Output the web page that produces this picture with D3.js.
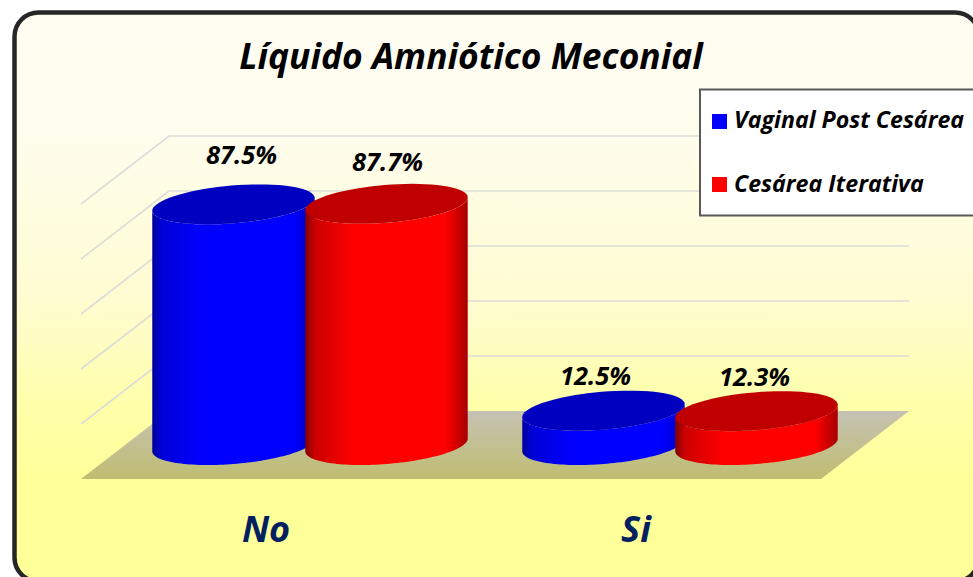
<!DOCTYPE html>
<html>
<head>
<meta charset="utf-8">
<script src="https://cdn.jsdelivr.net/npm/d3@7"></script>
<style>
  html, body { margin: 0; padding: 0; background: #fff; overflow: hidden; }
  text { font-family: "Open Sans", sans-serif; font-style: italic; font-weight: 700; }
</style>
</head>
<body>
<div id="chart"></div>
<script>
const categories = ["No", "Si"];
const seriesNames = ["Vaginal Post Cesárea", "Cesárea Iterativa"];
const vaginal = [87.5, 12.5];
const iterativa = [87.7, 12.3];
const yTicks = [0, 20, 40, 60, 80, 100];
const titleText = "Líquido Amniótico Meconial";

const width = 973, height = 577;
const depthX = 88, depthY = 68;   // how far the back wall sits from the front of the floor

const series = [
  { name: seriesNames[0], values: vaginal, id: "blue", color: "#0000ff", edge: "#00009a", top: "#0000c0" },
  { name: seriesNames[1], values: iterativa, id: "red", color: "#ff0000", edge: "#800000", top: "#c00000" }
];

const svg = d3.select("#chart").append("svg")
  .attr("width", width)
  .attr("height", height);

const defs = svg.append("defs");

function vGradient(id, stops) {
  const g = defs.append("linearGradient").attr("id", id)
    .attr("x1", 0).attr("y1", 0).attr("x2", 0).attr("y2", 1);
  stops.forEach(d => g.append("stop").attr("offset", d[0]).attr("stop-color", d[1]));
}
vGradient("bg", [[0, "#fffdf2"], [0.2, "#fffdee"], [0.5, "#fffcd2"], [0.69, "#ffffaa"], [0.83, "#ffff99"], [1, "#ffff99"]]);
vGradient("floor", [[0, "#c6c2b4"], [1, "#bfbd70"]]);

series.forEach(s => {
  const mix = d3.interpolateRgb(s.edge, s.color);
  const g = defs.append("linearGradient").attr("id", "body-" + s.id)
    .attr("x1", 0).attr("y1", 0).attr("x2", 1).attr("y2", 0);
  [[0, s.edge], [0.06, mix(0.6)], [0.3, s.color], [0.86, s.color], [1, mix(0.3)]]
    .forEach(d => g.append("stop").attr("offset", d[0]).attr("stop-color", d[1]));
});

// panel
svg.append("rect")
  .attr("x", 14.5).attr("y", 12.5)
  .attr("width", 964.5).attr("height", 569)
  .attr("rx", 24).attr("ry", 24)
  .attr("fill", "url(#bg)")
  .attr("stroke", "#262626")
  .attr("stroke-width", 4.5);

const x = d3.scaleBand().domain(categories).range([81, 821]);
const xInner = d3.scaleBand().domain(seriesNames).range([-153, 153]);
const y = d3.scaleLinear().domain([0, 100]).range([411, 136]);

// floor
svg.append("path")
  .attr("d", d3.line()([
    [x.range()[0], y(0) + depthY],
    [x.range()[1], y(0) + depthY],
    [x.range()[1] + depthX, y(0)],
    [x.range()[0] + depthX, y(0)]
  ]) + "Z")
  .attr("fill", "url(#floor)");

// wall grid
const grid = svg.append("g").attr("fill", "none").attr("stroke", "#dcdcd8").attr("stroke-width", 1.6);
yTicks.filter(t => t > 0).forEach(t => {
  grid.append("path").attr("d", d3.line()([
    [x.range()[0], y(t) + depthY],
    [x.range()[0] + depthX, y(t)],
    [x.range()[1] + depthX, y(t)]
  ]));
});

// cylinder: a circle lying on the floor, so its ellipse is sheared along the depth direction
const rx = 77, ry = 20, shear = ry * depthX / depthY;
const ring = (cx, cy, t) => [cx + rx * Math.cos(t) + shear * Math.sin(t) * -1, cy + ry * Math.sin(t)];
const tRight = Math.atan2(-shear, rx);       // rightmost point of the ellipse
const steps = d3.range(0, 73).map(i => i / 72);

function ellipsePath(cx, cy) {
  return d3.line()(steps.map(k => ring(cx, cy, k * 2 * Math.PI))) + "Z";
}
function bodyPath(cx, cyTop, cyBase) {
  const front = steps.map(k => ring(cx, cyBase, tRight + k * Math.PI));
  const back = steps.map(k => ring(cx, cyTop, tRight + Math.PI - k * Math.PI));
  return d3.line()(front.concat(back)) + "Z";
}

// the value labels were placed by hand in the original, not at a fixed distance from the bars
const labelNudge = { "blue-No": [8, -40], "red-No": [1, -33], "blue-Si": [-8, -26], "red-Si": [-2, -25] };

const floorMid = y(0) + depthY / 2;
const marks = svg.append("g");
const labels = svg.append("g");
categories.forEach((cat, i) => {
  series.forEach(s => {
    const cx = x(cat) + x.bandwidth() / 2 + depthX / 2 + xInner(s.name) + xInner.bandwidth() / 2;
    const barH = y(0) - y(s.values[i]);
    const cyTop = floorMid - barH;
    const nudge = labelNudge[s.id + "-" + cat];
    marks.append("path").attr("d", bodyPath(cx, cyTop, floorMid)).attr("fill", `url(#body-${s.id})`);
    marks.append("path").attr("d", ellipsePath(cx, cyTop)).attr("fill", s.top);
    labels.append("text")
      .attr("x", cx + nudge[0])
      .attr("y", cyTop + nudge[1])
      .attr("text-anchor", "middle")
      .attr("font-size", 25.5)
      .attr("fill", "#000")
      .text(s.values[i].toFixed(1) + "%");
  });
});

// category labels
svg.selectAll("text.cat").data(categories).join("text")
  .attr("class", "cat")
  .attr("x", d => x(d) + x.bandwidth() / 2)
  .attr("y", 542)
  .attr("text-anchor", "middle")
  .attr("font-size", 36)
  .attr("fill", "#002060")
  .text(d => d);

// title
svg.append("text")
  .attr("x", 471).attr("y", 69)
  .attr("text-anchor", "middle")
  .attr("font-size", 35.4)
  .attr("fill", "#000")
  .text(titleText);

// legend
const legend = svg.append("g");
legend.append("rect")
  .attr("x", 700).attr("y", 89.5)
  .attr("width", 280).attr("height", 126)
  .attr("fill", "#fff")
  .attr("stroke", "#595959")
  .attr("stroke-width", 2);
series.forEach((s, i) => {
  legend.append("rect")
    .attr("x", 712).attr("y", 114 + i * 63)
    .attr("width", 15).attr("height", 15)
    .attr("fill", s.color);
  legend.append("text")
    .attr("x", 734).attr("y", 128 + i * 63.5)
    .attr("font-size", 23.2)
    .attr("fill", "#000")
    .text(s.name);
});
</script>
</body>
</html>
